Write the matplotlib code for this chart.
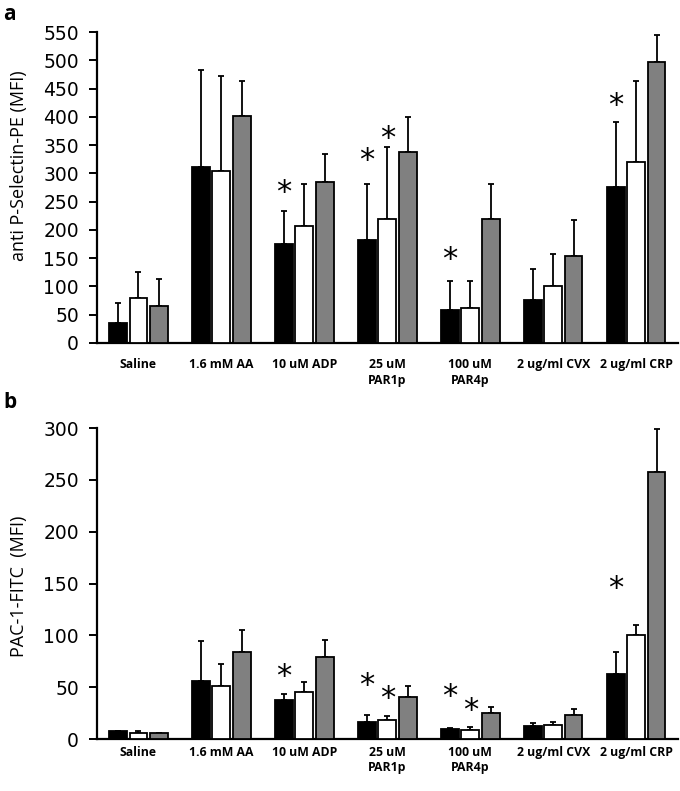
import numpy as np
import matplotlib
matplotlib.use('Agg')
import matplotlib.pyplot as plt

plt.rcParams['font.family'] = ['Open Sans', 'DejaVu Sans']

groups = ['Saline', '1.6 mM AA', '10 uM ADP', '25 uM\nPAR1p', '100 uM\nPAR4p',
          '2 ug/ml CVX', '2 ug/ml CRP']
series_colors = ['black', 'white', '#808080']

# panel a: anti P-Selectin-PE (MFI), mean and upper SD for three series
psel_means = [
    [36, 311, 175, 182, 59, 76, 276],
    [79, 305, 207, 219, 61, 101, 320],
    [66, 401, 284, 338, 219, 154, 497],
]
psel_errs = [
    [34, 171, 58, 99, 50, 55, 114],
    [47, 167, 74, 127, 48, 56, 144],
    [48, 63, 51, 62, 63, 63, 48],
]
# significance stars: group index, series index, y value
psel_star_group = [2, 3, 3, 4, 6]
psel_star_series = [0, 0, 1, 0, 0]
psel_star_y = [273, 331, 369, 155, 428]

# panel b: PAC-1-FITC (MFI)
pac_means = [
    [8, 56, 38, 16, 10, 13, 63],
    [6, 51, 45, 18, 9, 14, 100],
    [6, 84, 79, 41, 25, 23, 258],
]
pac_errs = [
    [0, 39, 5, 7, 0.6, 2, 21],
    [2, 21, 10, 4.5, 2.5, 2, 10],
    [0, 21, 17, 10, 5.5, 6, 41],
]
pac_star_group = [2, 3, 3, 4, 4, 6]
pac_star_series = [0, 0, 1, 0, 1, 0]
pac_star_y = [64, 56, 43, 45, 32, 149]

BAR_W = 0.215
STEP = 0.245


def draw_panel(ax, means, errs, star_group, star_series, star_y,
               ymax, ystep, ylabel, label_pad):
    x = np.arange(len(groups))
    for i, (m, e) in enumerate(zip(means, errs)):
        xs = x + (i - 1) * STEP
        ax.errorbar(xs, m, yerr=[np.zeros(len(e)), e], fmt='none',
                    ecolor='black', elinewidth=1.3, capsize=2.5,
                    capthick=1.3, zorder=2)
        ax.bar(xs, m, width=BAR_W, color=series_colors[i],
               edgecolor='black', linewidth=1.3, zorder=3)
    for g, s, y in zip(star_group, star_series, star_y):
        ax.annotate('*', xy=(g + (s - 1) * STEP, y), xytext=(0, -3),
                    textcoords='offset points', ha='center', va='center',
                    fontsize=22, family='DejaVu Sans')

    ax.set_xlim(-0.5, 6.5)
    ax.set_ylim(0, ymax)
    ax.set_yticks(np.arange(0, ymax + 1, ystep))
    ax.set_xticks(x)
    ax.set_xticklabels(groups, fontsize=8.8, fontweight='bold',
                       linespacing=1.25)
    ax.tick_params(axis='x', length=0, pad=label_pad)
    ax.tick_params(axis='y', labelsize=13.5, length=6, width=1.4, pad=7)
    for lab in ax.get_yticklabels():
        lab.set_family('DejaVu Sans')
    ax.set_ylabel(ylabel, fontsize=13)
    for side in ['top', 'right']:
        ax.spines[side].set_visible(False)
    for side in ['left', 'bottom']:
        ax.spines[side].set_linewidth(1.6)


fig = plt.figure(figsize=(6.8, 7.91), dpi=100)
ax_a = fig.add_axes([0.1426, 0.5664, 0.854, 0.3931])
ax_b = fig.add_axes([0.1426, 0.0657, 0.854, 0.3932])

draw_panel(ax_a, psel_means, psel_errs, psel_star_group, psel_star_series,
           psel_star_y, 550, 50, 'anti P-Selectin-PE (MFI)', 11)
draw_panel(ax_b, pac_means, pac_errs, pac_star_group, pac_star_series,
           pac_star_y, 300, 50, 'PAC-1-FITC  (MFI)', 5)
ax_a.yaxis.set_label_coords(-0.118, 0.57)
ax_b.yaxis.set_label_coords(-0.118, 0.49)

fig.text(0.005, 0.995, 'a', fontsize=15, fontweight='bold', va='top')
fig.text(0.005, 0.505, 'b', fontsize=15, fontweight='bold', va='top')

fig.savefig('out.png', dpi=100)
